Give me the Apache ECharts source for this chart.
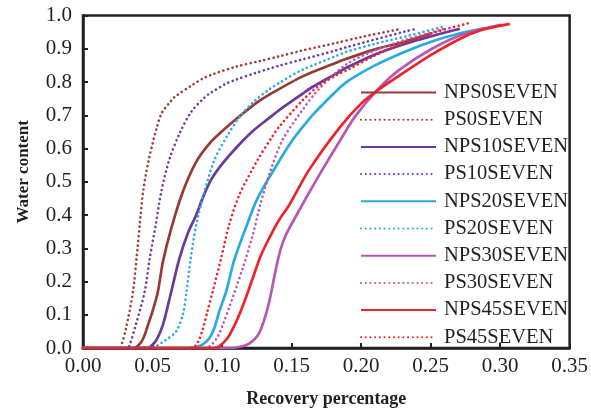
<!DOCTYPE html>
<html>
<head>
<meta charset="utf-8">
<script src="https://cdn.jsdelivr.net/npm/echarts@6/dist/echarts.min.js"></script>
<style>
  html, body { margin: 0; padding: 0; background: #fff; }
  #chart { width: 591px; height: 413px; }
</style>
</head>
<body>
<div id="chart"></div>
<script>
// Water content versus recovery percentage, one curve per sample ([x, y] pairs)
const seriesNames = [
  'NPS0SEVEN', 'PS0SEVEN', 'NPS10SEVEN', 'PS10SEVEN', 'NPS20SEVEN',
  'PS20SEVEN', 'NPS30SEVEN', 'PS30SEVEN', 'NPS45SEVEN', 'PS45SEVEN'
];

const nps0 = [[0,0],[0.036,0],[0.040,0.008],[0.0435,0.03],[0.0468,0.07],[0.050,0.11],[0.0539,0.17],
  [0.0575,0.26],[0.0635,0.36],[0.0718,0.47],[0.0814,0.56],[0.0909,0.615],[0.100,0.652],[0.110,0.688],
  [0.124,0.735],[0.134,0.762],[0.158,0.817],[0.1816,0.857],[0.189,0.869],[0.210,0.898],[0.232,0.922],[0.250,0.945]];

const ps0 = [[0,0],[0.026,0],[0.0277,0.01],[0.031,0.06],[0.036,0.17],[0.0385,0.27],[0.0408,0.37],
  [0.0432,0.47],[0.0475,0.57],[0.0532,0.665],[0.0568,0.708],[0.0623,0.738],[0.0659,0.755],[0.079,0.792],
  [0.0861,0.81],[0.093,0.823],[0.110,0.846],[0.127,0.863],[0.141,0.877],[0.158,0.895],[0.1816,0.917],
  [0.200,0.935],[0.229,0.96]];

const nps10 = [[0,0],[0.046,0],[0.049,0.006],[0.053,0.025],[0.0575,0.07],[0.0635,0.17],[0.0694,0.27],
  [0.0754,0.345],[0.0814,0.40],[0.086,0.45],[0.092,0.505],[0.1004,0.555],[0.1124,0.612],[0.122,0.652],
  [0.134,0.692],[0.141,0.715],[0.158,0.765],[0.165,0.785],[0.182,0.825],[0.189,0.842],[0.210,0.883],
  [0.232,0.915],[0.250,0.937],[0.271,0.96]];

const ps10 = [[0,0],[0.032,0],[0.0336,0.01],[0.038,0.07],[0.0444,0.17],[0.048,0.27],[0.0523,0.37],
  [0.0563,0.47],[0.0623,0.57],[0.070,0.65],[0.0778,0.71],[0.0861,0.748],[0.0909,0.765],[0.103,0.795],
  [0.110,0.807],[0.124,0.827],[0.134,0.84],[0.141,0.849],[0.158,0.868],[0.182,0.895],[0.189,0.904],
  [0.2317,0.952],[0.238,0.958]];

const nps20 = [[0,0],[0.076,0],[0.081,0.003],[0.0865,0.012],[0.091,0.03],[0.0945,0.06],[0.098,0.11],
  [0.103,0.17],[0.1088,0.265],[0.117,0.36],[0.1255,0.45],[0.1386,0.545],[0.1506,0.625],[0.165,0.7],
  [0.170,0.722],[0.189,0.798],[0.210,0.85],[0.232,0.892],[0.251,0.922],[0.270,0.945],[0.289,0.962]];

const ps20 = [[0,0],[0.050,0],[0.0535,0.008],[0.060,0.025],[0.067,0.05],[0.0718,0.10],[0.0745,0.17],
  [0.0775,0.27],[0.0814,0.37],[0.0873,0.47],[0.0945,0.565],[0.104,0.64],[0.1136,0.7],[0.124,0.745],
  [0.134,0.778],[0.141,0.797],[0.158,0.837],[0.182,0.878],[0.189,0.89],[0.210,0.915],[0.232,0.937],[0.258,0.965]];

const nps30 = [[0,0],[0.105,0],[0.112,0.003],[0.118,0.01],[0.123,0.025],[0.1267,0.045],[0.130,0.08],
  [0.134,0.14],[0.1386,0.235],[0.142,0.295],[0.1458,0.339],[0.153,0.395],[0.160,0.448],[0.172,0.535],
  [0.185,0.625],[0.196,0.698],[0.2126,0.78],[0.227,0.835],[0.251,0.9],[0.2746,0.945],[0.301,0.972]];

const ps30 = [[0,0],[0.088,0],[0.092,0.008],[0.097,0.035],[0.101,0.075],[0.105,0.12],[0.1148,0.239],
  [0.122,0.339],[0.128,0.439],[0.135,0.535],[0.1434,0.625],[0.158,0.717],[0.170,0.78],[0.189,0.852],
  [0.210,0.895],[0.232,0.927],[0.260,0.96]];

const nps45 = [[0,0],[0.094,0],[0.098,0.005],[0.104,0.03],[0.108,0.06],[0.1124,0.1],[0.117,0.15],
  [0.122,0.209],[0.128,0.279],[0.135,0.339],[0.141,0.385],[0.148,0.428],[0.1625,0.535],
  [0.184,0.66],[0.200,0.735],[0.2126,0.777],[0.227,0.818],[0.251,0.883],[0.2746,0.937],[0.290,0.96],[0.307,0.975]];

const ps45 = [[0,0],[0.076,0],[0.080,0.004],[0.083,0.02],[0.086,0.055],[0.0895,0.11],[0.0933,0.17],
  [0.0993,0.269],[0.105,0.369],[0.1124,0.46],[0.1255,0.565],[0.136,0.635],[0.141,0.665],[0.158,0.745],
  [0.170,0.79],[0.182,0.82],[0.191,0.838],[0.210,0.88],[0.232,0.92],[0.255,0.952],[0.2775,0.977]];

const seriesData = [nps0, ps0, nps10, ps10, nps20, ps20, nps30, ps30, nps45, ps45];
const seriesColors = ['#983a34', '#9c3f3a', '#6a3a9b', '#6d3fa0', '#29abe2',
                      '#29abe2', '#b558b2', '#b35bb0', '#ee2329', '#ee2329'];
const dottedFlags = [false, true, false, true, false, true, false, true, false, true];

const xTicks = [0, 0.05, 0.10, 0.15, 0.20, 0.25, 0.30, 0.35];
const yTicks = [0, 0.1, 0.2, 0.3, 0.4, 0.5, 0.6, 0.7, 0.8, 0.9, 1.0];

const ink = '#231f20';
const serif = '"Liberation Serif", "DejaVu Serif", serif';

const chart = echarts.init(document.getElementById('chart'), null, { renderer: 'canvas' });

const series = seriesNames.map((name, i) => ({
  name: name,
  type: 'line',
  data: seriesData[i],
  showSymbol: false,
  symbol: 'none',
  smooth: 0.3,
  animation: false,
  lineStyle: dottedFlags[i]
    ? { color: seriesColors[i], width: 2.6, type: [0.1, 4.6], cap: 'round' }
    : { color: seriesColors[i], width: 2.7, type: 'solid' },
  itemStyle: { color: seriesColors[i] }
}));

chart.setOption({
  animation: false,
  backgroundColor: '#fff',
  grid: {
    left: 83, right: 19, top: 15.5, bottom: 63,
    show: true, borderColor: ink, borderWidth: 2.5, backgroundColor: 'transparent'
  },
  legend: {
    orient: 'vertical',
    left: 360,
    top: 82,
    padding: 0,
    itemWidth: 75,
    itemHeight: 14,
    itemGap: 6.2,
    data: seriesNames,
    // only the line sample is shown, no marker on it
    itemStyle: { opacity: 0 },
    textStyle: {
      fontFamily: serif, fontSize: 20.5, color: ink, lineHeight: 20, padding: [0, 0, 0, 3]
    }
  },
  xAxis: {
    type: 'value',
    min: xTicks[0],
    max: xTicks[xTicks.length - 1],
    interval: 0.05,
    name: 'Recovery percentage',
    nameLocation: 'middle',
    nameGap: 42,
    nameTextStyle: { fontFamily: serif, fontWeight: 'bold', fontSize: 18, color: ink },
    axisLine: { show: true, lineStyle: { color: ink, width: 2.5 } },
    axisTick: { show: true, inside: true, length: 5, lineStyle: { color: ink, width: 2 } },
    axisLabel: {
      fontFamily: serif, fontSize: 21, color: ink, margin: 8,
      formatter: v => v.toFixed(2)
    },
    splitLine: { show: false }
  },
  yAxis: {
    type: 'value',
    min: yTicks[0],
    max: yTicks[yTicks.length - 1],
    interval: 0.1,
    name: 'Water content',
    nameLocation: 'middle',
    nameGap: 51,
    nameTextStyle: {
      fontFamily: serif, fontWeight: 'bold', fontSize: 17, color: ink, padding: [0, 0, 0, 20]
    },
    axisLine: { show: true, lineStyle: { color: ink, width: 2.5 } },
    axisTick: { show: true, inside: true, length: 5, lineStyle: { color: ink, width: 2 } },
    axisLabel: {
      fontFamily: serif, fontSize: 21, color: ink, margin: 11,
      formatter: v => v.toFixed(1)
    },
    splitLine: { show: false }
  },
  series: series
});
</script>
</body>
</html>
